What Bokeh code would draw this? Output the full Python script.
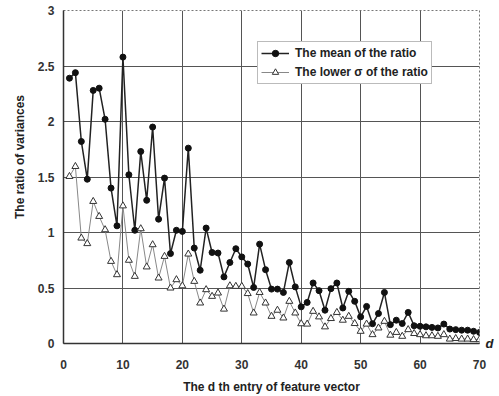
import math
from bokeh.plotting import figure
from bokeh.models import Range1d, FixedTicker, Legend, LegendItem, LinearAxis
from bokeh.embed import file_html
from bokeh.resources import INLINE

d = list(range(1, 71))
mean_ratio = [2.39, 2.44, 1.82, 1.48, 2.28, 2.30, 2.02, 1.40, 1.06, 2.58,
              1.52, 1.02, 1.73, 1.29, 1.95, 1.12, 1.49, 0.81, 1.02, 1.01,
              1.76, 0.86, 0.66, 1.04, 0.82, 0.815, 0.60, 0.73, 0.854, 0.78,
              0.716, 0.505, 0.895, 0.665, 0.49, 0.49, 0.46, 0.73, 0.51, 0.33,
              0.37, 0.545, 0.476, 0.30, 0.494, 0.545, 0.32, 0.47, 0.38, 0.24,
              0.334, 0.178, 0.27, 0.46, 0.17, 0.21, 0.18, 0.28, 0.16, 0.155,
              0.15, 0.145, 0.14, 0.175, 0.13, 0.125, 0.12, 0.12, 0.11, 0.10]
lower_sigma = [1.505, 1.595, 0.95, 0.90, 1.28, 1.145, 1.025, 0.74, 0.62, 1.24,
               0.75, 0.605, 1.034, 0.69, 0.89, 0.59, 0.785, 0.50, 0.575, 0.52,
               0.806, 0.56, 0.365, 0.485, 0.425, 0.455, 0.31, 0.52, 0.515, 0.515,
               0.45, 0.275, 0.46, 0.365, 0.245, 0.30, 0.23, 0.38, 0.275, 0.178,
               0.175, 0.29, 0.24, 0.15, 0.225, 0.28, 0.21, 0.245, 0.18, 0.11,
               0.175, 0.08, 0.14, 0.20, 0.075, 0.10, 0.065, 0.125, 0.09, 0.08,
               0.07, 0.07, 0.065, 0.08, 0.04, 0.045, 0.04, 0.04, 0.035, 0.035]
x_ticks = [0, 10, 20, 30, 40, 50, 60, 70]
y_ticks = [0, 0.5, 1, 1.5, 2, 2.5, 3]
y_tick_labels = ["0", "0.5", "1", "1.5", "2", "2.5", "3"]

FONT = "Liberation Sans"

p = figure(width=499, height=396, output_backend="svg", toolbar_location=None,
           x_range=Range1d(0, 70), y_range=Range1d(0, 3),
           min_border_left=63, min_border_right=20, min_border_top=10, min_border_bottom=52)
p.outline_line_color = "#777777"
p.outline_line_dash = "2 2"
p.outline_line_width = 1

p.xaxis.ticker = FixedTicker(ticks=x_ticks)
p.yaxis.ticker = FixedTicker(ticks=y_ticks)
p.yaxis.major_label_overrides = {t: l for t, l in zip(y_ticks, y_tick_labels)}
for ax in (p.xaxis[0], p.yaxis[0]):
    ax.major_tick_in = 0
    ax.major_tick_out = 0
    ax.minor_tick_in = 0
    ax.minor_tick_out = 0
    ax.axis_line_color = "#333333"
    ax.axis_line_width = 1.5
    ax.major_label_text_font = FONT
    ax.major_label_text_font_style = "bold"
    ax.major_label_text_font_size = "12px"
    ax.major_label_text_color = "#333333"
    ax.axis_label_text_font = FONT
    ax.axis_label_text_font_style = "bold"
    ax.axis_label_text_font_size = "12px"
    ax.axis_label_text_color = "#222222"
p.xaxis.major_label_standoff = 16
p.yaxis.major_label_standoff = 9
p.xaxis.axis_label = "The d th entry of feature vector"
p.xaxis.axis_label_standoff = 8
p.yaxis.axis_label = "\u00a0" * 12 + "The ratio of variances"
p.yaxis.axis_label_standoff = 8

# right-hand axis only to carry the italic "d" marker at y = 0
raxis = LinearAxis(ticker=FixedTicker(ticks=[0]), major_label_overrides={0: "d"})
raxis.axis_line_color = None
raxis.major_tick_in = 0
raxis.major_tick_out = 0
raxis.minor_tick_in = 0
raxis.minor_tick_out = 0
raxis.major_label_standoff = 6
raxis.major_label_text_font = FONT
raxis.major_label_text_font_style = "bold italic"
raxis.major_label_text_font_size = "13px"
raxis.major_label_text_color = "#222222"
p.add_layout(raxis, "right")

p.xgrid.grid_line_color = "#555555"
p.ygrid.grid_line_color = "#555555"
p.xgrid.grid_line_width = 1
p.ygrid.grid_line_width = 1

l1 = p.line(d, mean_ratio, line_color="#222222", line_width=1.5)
s1 = p.scatter(d, mean_ratio, marker="circle", size=6, fill_color="#111111", line_color="#111111")
l2 = p.line(d, lower_sigma, line_color="#888888", line_width=1)
s2 = p.scatter(d, lower_sigma, marker="triangle", size=7, fill_color="white", line_color="#333333", line_width=1)

legend = Legend(items=[LegendItem(label="The mean of the ratio", renderers=[l1, s1]),
                       LegendItem(label="The lower \u03c3 of the ratio", renderers=[l2, s2])],
                location=(194, 259))
legend.label_text_font = FONT
legend.label_text_font_style = "bold"
legend.label_text_font_size = "12px"
legend.label_text_color = "#222222"
legend.border_line_color = "#777777"
legend.border_line_width = 1.5
legend.background_fill_alpha = 1
legend.padding = 3
legend.spacing = 3
legend.margin = 0
legend.label_height = 16
legend.glyph_height = 16
legend.glyph_width = 28
legend.label_standoff = 6
p.add_layout(legend, "center")

open("out.html", "w").write(file_html(p, INLINE))
